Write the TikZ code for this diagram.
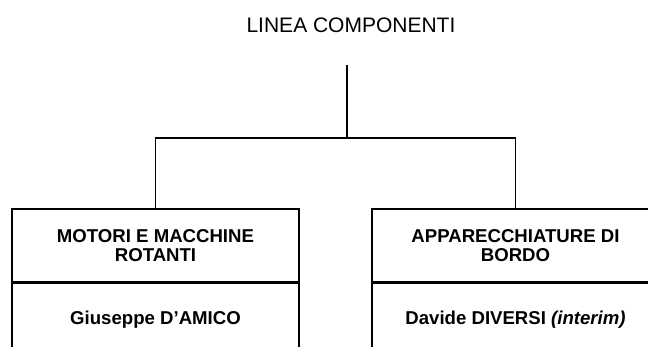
\documentclass[tikz,border=0pt]{standalone}
\usepackage{fontspec}
\setmainfont{Liberation Sans}
\begin{document}
\begin{tikzpicture}[
        x=1pt, y=-1pt,
        headbox/.style={draw, line width=1.5pt, minimum width=287pt, minimum height=73pt,
            align=center, inner sep=0pt, font=\fontsize{18.6}{19.5}\selectfont\bfseries},
        personbox/.style={headbox, anchor=north},
        link/.style={draw, line width=1.5pt}
    ]
        \useasboundingbox (0,0) rectangle (648,347);
        \node[font=\fontsize{21}{24}\selectfont] (title) at (351,25) {LINEA COMPONENTI};
        \coordinate (top) at (347,65);
        \coordinate (split) at (347,138);

        \node[headbox] (motori) at (155.5,245.5) {MOTORI E MACCHINE\\ROTANTI};
        \node[personbox] (amico) at (motori.south) {Giuseppe D’AMICO};
        \node[headbox] (bordo) at (515.5,245.5) {APPARECCHIATURE DI\\BORDO};
        \node[personbox] (diversi) at (bordo.south) {Davide DIVERSI \textit{(interim)}};

        \path[link] (top) -- (split);
        \path[link] (split) -| (motori.north);
        \path[link] (split) -| (bordo.north);
    \end{tikzpicture}
\end{document}
